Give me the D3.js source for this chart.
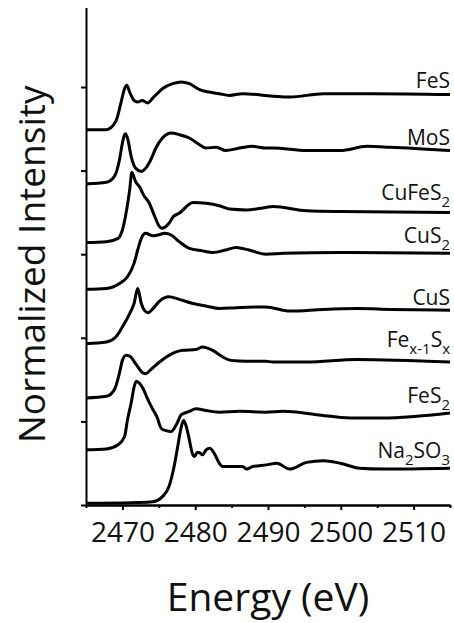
<!DOCTYPE html>
<html>
<head>
<meta charset="utf-8">
<script src="https://cdn.jsdelivr.net/npm/d3@7"></script>
<style>
  html, body { margin: 0; padding: 0; background: #fff; }
  svg { display: block; font-family: "Open Sans", "DejaVu Sans", sans-serif; }
</style>
</head>
<body>
<svg id="chart" width="454" height="623"></svg>
<script>
// ---------- data (energy in eV, normalized intensity incl. stacking offset) ----------
const seriesNames = ["FeS", "MoS", "CuFeS2", "CuS2", "CuS", "Fex-1Sx", "FeS2", "Na2SO3"];

const FeS = [[2465.0,4.49],[2467.8,4.49],[2469.1,4.59],[2469.8,4.81],[2470.3,4.98],[2470.6,5.02],[2471.0,4.94],[2471.6,4.84],[2472.1,4.82],[2472.7,4.84],[2473.5,4.81],[2474.2,4.87],[2475.5,4.98],[2476.9,5.04],[2478.1,5.06],[2479.2,5.04],[2480.6,4.97],[2481.9,4.94],[2483.3,4.92],[2484.7,4.90],[2486.5,4.92],[2490.7,4.89],[2493.0,4.88],[2497.6,4.92],[2504.4,4.92],[2515.0,4.91]];

const MoS = [[2465.0,3.84],[2467.8,3.86],[2468.9,3.93],[2469.6,4.13],[2470.0,4.33],[2470.3,4.43],[2470.4,4.44],[2470.7,4.39],[2471.2,4.17],[2471.8,4.03],[2472.6,3.99],[2473.2,4.03],[2473.9,4.13],[2474.6,4.27],[2475.5,4.39],[2476.7,4.45],[2477.8,4.43],[2479.2,4.39],[2480.6,4.31],[2481.5,4.27],[2482.9,4.28],[2484.2,4.24],[2486.1,4.27],[2487.9,4.29],[2489.7,4.27],[2490.7,4.27],[2495.3,4.24],[2499.9,4.24],[2503.6,4.29],[2506.8,4.28],[2515.0,4.24]];

const CuFeS2 = [[2465.0,3.14],[2467.8,3.15],[2469.4,3.19],[2470.0,3.29],[2470.5,3.49],[2471.0,3.77],[2471.3,3.98],[2471.8,3.87],[2472.4,3.80],[2472.9,3.71],[2473.7,3.61],[2474.4,3.46],[2475.1,3.33],[2475.4,3.31],[2476.4,3.37],[2477.0,3.45],[2477.8,3.49],[2479.7,3.62],[2481.5,3.61],[2483.3,3.58],[2484.7,3.54],[2487.0,3.53],[2489.7,3.56],[2490.7,3.57],[2495.3,3.52],[2499.9,3.51],[2515.0,3.50]];

const CuS2 = [[2465.0,2.58],[2467.8,2.59],[2469.6,2.65],[2470.7,2.73],[2471.6,2.89],[2472.1,3.05],[2472.6,3.19],[2473.2,3.25],[2474.2,3.22],[2474.9,3.23],[2475.8,3.25],[2476.7,3.23],[2477.8,3.15],[2479.2,3.07],[2481.0,3.04],[2482.4,3.02],[2484.2,3.05],[2485.6,3.08],[2487.4,3.05],[2489.7,3.00],[2492.1,3.01],[2499.9,3.02],[2515.0,3.01]];

const CuS = [[2465.0,1.93],[2467.8,1.95],[2469.1,2.01],[2470.0,2.13],[2471.0,2.29],[2471.6,2.41],[2472.1,2.59],[2472.6,2.41],[2473.0,2.33],[2473.5,2.30],[2474.2,2.35],[2475.1,2.44],[2476.4,2.49],[2477.8,2.46],[2479.7,2.41],[2481.5,2.38],[2483.3,2.35],[2485.6,2.36],[2489.7,2.37],[2493.0,2.32],[2497.6,2.34],[2502.2,2.35],[2506.8,2.34],[2515.0,2.33]];

const FexSx = [[2465.0,1.28],[2467.8,1.30],[2468.9,1.38],[2469.6,1.58],[2470.0,1.73],[2470.5,1.79],[2471.0,1.78],[2471.9,1.68],[2472.8,1.58],[2473.2,1.57],[2473.9,1.62],[2475.1,1.71],[2476.4,1.79],[2478.3,1.85],[2480.1,1.86],[2481.0,1.89],[2482.4,1.85],[2483.8,1.77],[2484.9,1.73],[2487.0,1.72],[2489.7,1.72],[2490.7,1.71],[2495.3,1.71],[2502.2,1.74],[2515.0,1.71]];

const FeS2 = [[2465.0,0.66],[2467.8,0.67],[2469.4,0.72],[2470.3,0.82],[2470.7,1.02],[2471.2,1.22],[2471.6,1.41],[2471.9,1.48],[2472.4,1.45],[2472.8,1.40],[2473.5,1.26],[2474.2,1.14],[2474.9,1.02],[2475.1,0.96],[2475.4,0.91],[2476.0,0.89],[2476.7,0.88],[2477.4,0.96],[2478.1,1.08],[2479.2,1.12],[2480.1,1.15],[2481.5,1.13],[2483.3,1.11],[2486.1,1.12],[2489.7,1.11],[2492.1,1.12],[2496.7,1.08],[2501.3,1.04],[2505.8,1.04],[2515.0,1.10]];

const Na2SO3 = [[2465.0,0.02],[2471.9,0.03],[2474.2,0.04],[2475.5,0.10],[2476.4,0.22],[2477.1,0.46],[2477.6,0.70],[2478.0,0.90],[2478.4,1.01],[2478.7,0.96],[2479.1,0.82],[2479.6,0.62],[2479.9,0.58],[2480.3,0.63],[2480.7,0.62],[2481.0,0.60],[2481.5,0.66],[2482.0,0.68],[2482.6,0.62],[2483.3,0.50],[2483.8,0.46],[2485.2,0.46],[2486.5,0.46],[2487.1,0.43],[2487.9,0.46],[2489.8,0.48],[2491.2,0.50],[2493.0,0.43],[2495.3,0.51],[2497.6,0.53],[2499.9,0.50],[2502.6,0.44],[2505.8,0.43],[2515.0,0.44]];

const seriesValues = [FeS, MoS, CuFeS2, CuS2, CuS, FexSx, FeS2, Na2SO3];

// label parts: [text, isSubscript]
const seriesLabels = [
  [["FeS",0]],
  [["MoS",0]],
  [["CuFeS",0],["2",1]],
  [["CuS",0],["2",1]],
  [["CuS",0]],
  [["Fe",0],["x-1",1],["S",0],["x",1]],
  [["FeS",0],["2",1]],
  [["Na",0],["2",1],["SO",0],["3",1]]
];

const xDomain = [2465, 2515];
const yDomain = [0, 5.95];
const xMajorTicks = [2470, 2480, 2490, 2500, 2510];
const xMinorTicks = [2465, 2475, 2485, 2495, 2505, 2515];
const yTickValues = [0, 1, 2, 3, 4, 5];
const xTitle = "Energy (eV)";
const yTitle = "Normalized Intensity";

// ---------- layout ----------
const svg = d3.select("#chart");
const mLeft = 86, mRight = 450, mTop = 7.6, mBottom = 505;

const x = d3.scaleLinear().domain(xDomain).range([mLeft, mRight]);
const y = d3.scaleLinear().domain(yDomain).range([mBottom, mTop]);

const line = d3.line()
  .x(d => x(d[0]))
  .y(d => y(d[1]))
  .curve(d3.curveMonotoneX);

// curves
svg.append("g")
  .selectAll("path")
  .data(seriesValues)
  .join("path")
  .attr("d", line)
  .attr("fill", "none")
  .attr("stroke", "#000")
  .attr("stroke-width", 3)
  .attr("stroke-linejoin", "round");

// labels
const labelDy = [7, 6, 12, 10, 5, 15, 10, 10];
const lab = svg.append("g")
  .selectAll("text")
  .data(seriesLabels)
  .join("text")
  .attr("x", 450)
  .attr("y", (d, i) => y(seriesValues[i][seriesValues[i].length - 1][1]) - labelDy[i])
  .attr("text-anchor", "end")
  .style("font-size", "21px")
  .attr("fill", "#111");
lab.each(function(parts) {
  const t = d3.select(this);
  let shifted = false;
  parts.forEach(p => {
    const ts = t.append("tspan").text(p[0]);
    if (p[1]) {
      ts.style("font-size", "15px").attr("dy", shifted ? 0 : 7);
      shifted = true;
    } else {
      ts.style("font-size", "21px").attr("dy", shifted ? -7 : 0);
      shifted = false;
    }
  });
});

// axes
const xAxisMinor = d3.axisBottom(x).tickValues(xMinorTicks).tickSize(3).tickSizeOuter(0).tickFormat("");
const xAxisMajor = d3.axisBottom(x).tickValues(xMajorTicks).tickSize(5).tickSizeOuter(0).tickPadding(12).tickFormat(d3.format("d"));
const yAxis = d3.axisLeft(y).tickValues(yTickValues).tickSize(5).tickSizeOuter(0).tickFormat("");

const gxm = svg.append("g").attr("transform", `translate(0,${mBottom})`).call(xAxisMinor);
const gx = svg.append("g").attr("transform", `translate(0,${mBottom})`).call(xAxisMajor);
const gy = svg.append("g").attr("transform", `translate(${mLeft},0)`).call(yAxis);

[gxm, gx, gy].forEach(g => {
  g.attr("font-family", null).attr("font-size", null);
  g.select(".domain").attr("stroke", "#000").attr("stroke-width", 2);
  g.selectAll(".tick line").attr("stroke", "#000").attr("stroke-width", 2);
});
gx.selectAll(".tick text")
  .style("font-size", "28px")
  .attr("fill", "#111");

// titles
svg.append("text")
  .attr("x", (mLeft + mRight) / 2)
  .attr("y", 611)
  .attr("text-anchor", "middle")
  .style("font-size", "39px")
  .attr("fill", "#111")
  .text(xTitle);

svg.append("text")
  .attr("transform", `translate(45,${(mBottom + mTop) / 2 + 8}) rotate(-90)`)
  .attr("text-anchor", "middle")
  .style("font-size", "37px")
  .attr("fill", "#111")
  .text(yTitle);
</script>
</body>
</html>
